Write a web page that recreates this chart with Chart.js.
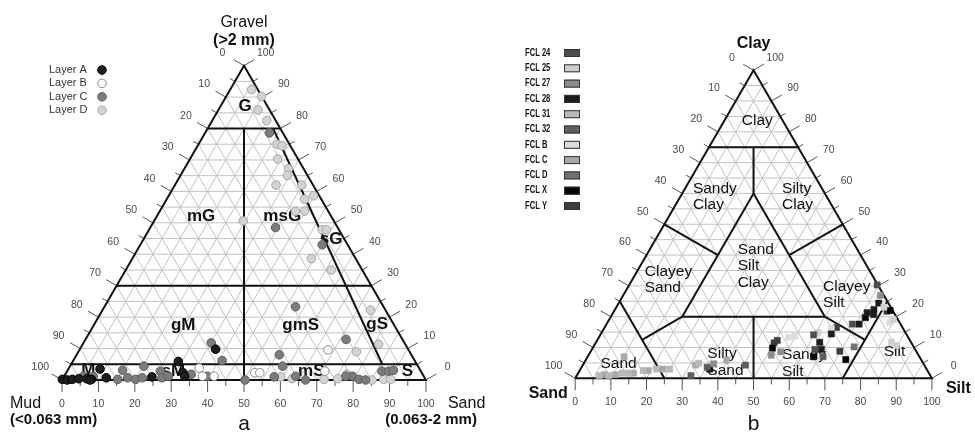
<!DOCTYPE html>
<html><head><meta charset="utf-8">
<script src="https://cdn.jsdelivr.net/npm/chart.js@4.4.0/dist/chart.umd.min.js"></script>
<style>
html,body{margin:0;padding:0;background:#fff;}
#wrap{position:relative;width:975px;height:437px;background:#fff;}
canvas{position:absolute;top:0;}
#cA{left:0;} #cB{left:487px;}
</style></head><body>
<div id="wrap"><canvas id="cA" width="487" height="437"></canvas><canvas id="cB" width="488" height="437"></canvas></div>
<script>
// ---------- DATA ----------
// Tick values shared by both ternary diagrams
const majorTicks = [0,10,20,30,40,50,60,70,80,90,100];
const minorTicks = [5,15,25,35,45,55,65,75,85,95];
const gridSteps = [5,10,15,20,25,30,35,40,45,50,55,60,65,70,75,80,85,90,95];

// Panel a (Folk gravel-sand-mud). Each point = [sand %, gravel %]; mud = 100 - sand - gravel
const layerNames = ['Layer A','Layer B','Layer C','Layer D'];
const layerA = [[37.3,9.8],[29,5.9],[32.1,2.3],[33.1,1.2],[24.2,1],[0,0.2],[1.4,0],[2.7,0.2],[4.4,0.4],[6.6,0.4],[8,0.2],[8.7,3.5],[11.8,0.7],[7.7,0]];
const layerB = [[68.3,9.6],[35.8,3.8],[38,1.2],[41.2,1.2],[51.8,2.3],[53.2,2.3],[70.8,2.8]];
const layerC = [[17.7,78.6],[34.4,48.5],[50,43],[52.5,23.3],[71.6,12.9],[55.7,8],[58.4,4.4],[35.1,11.8],[40.9,6.2],[50.3,0],[57.8,1],[66.9,0],[79.2,1.2],[81.5,0.2],[83.4,0],[86.5,2.8],[88.3,2.8],[89.5,3.1],[63.6,1.2],[5.3,1.2],[8,1.2],[15.2,0.2],[15.1,3.1],[17.7,0.7],[20.1,0.2],[21.7,0.7],[20.3,4.4],[25.6,2.8],[27.1,0.7],[28.6,1.2],[34.6,1.8],[39.4,1.2],[77.4,1.2]];
const layerD = [[5.9,92.4],[9.7,90.2],[10.9,85.9],[15,82.5],[21.7,75],[23.2,74.5],[24.1,70.3],[28.6,67.2],[29.4,65.1],[27.8,62],[34.9,62],[37.9,57.5],[39.8,58.6],[37.3,53.7],[39.8,53.7],[24.5,50.6],[47.6,47.8],[48.8,47.8],[49.2,38.6],[56.5,35],[73.7,22.2],[81.3,11.4],[76.4,9],[59.6,1],[63,0.4],[71.9,0.2],[75.6,0.4],[77.4,1.8],[85.2,0],[88.3,0.2],[90.2,0.2]];
// Folk class boundaries, [sand, gravel] end points
const folkBounds = [[[0,80],[20,80]],[[0,30],[70,30]],[[0,5],[95,5]],[[10,80],[50,0]],[[18,80],[85.5,5]]];
const folkLabels = [['G',6.7,87.2],['mG',12.2,52],['msG',34.5,52],['sG',51.5,44.9],['gM',24.6,17.4],['gmS',56.9,17.4],['gS',77.7,17.8],['M',5.7,3.1],['sM',29.2,2.8],['mS',67.1,2.8],['S',93.5,2.8]];

// Panel b (Shepard sand-silt-clay). Each point = [silt %, clay %]; sand = 100 - silt - clay
const fclNames = ['FCL 24','FCL 25','FCL 27','FCL 28','FCL 31','FCL 32','FCL B','FCL C','FCL D','FCL X','FCL Y'];
const fcl24 = [[69.5,30.3],[68.9,17.6],[59.8,14.1],[62.5,9.4]];
const fcl25 = [[75,23.1],[79.6,19.1],[60.6,14.9],[82.8,11.7],[84.7,10.7]];
const fcl27 = [[72.1,26.9],[51.2,7.5],[53.3,8.6],[36.5,4.7]];
const fcl28 = [[72.9,24.4],[72.6,22.3],[71.2,21.3],[73.3,20.7],[70.8,17.6],[64.6,14.4],[62.7,11.7],[64.3,9.4]];
const fcl31 = [[6.3,0.9],[9,0.9],[12.3,1.7],[14.1,1.7],[17.8,2.5],[21.3,3],[25,3],[32.2,4.9]];
const fcl32 = [[66,7],[35.2,3.6],[32,0.9],[45.6,4.3]];
const fclB = [[63.7,16.2],[79.2,18.1],[53.2,13.3],[54.8,13.7]];
const fclC = [[7.6,1.2],[10.7,1.2],[10.2,7],[15.5,1.7],[19.2,2.5],[23.1,3],[31.6,4.3],[39.5,5.9]];
const fclD = [[73.1,10.2]];
const fclX = [[77.3,22],[71.5,19.7],[63.3,7],[72.8,6.1],[50.4,9.8],[36.2,3]];
const fclY = [[76.5,21.8],[65,16.5],[69.8,8.8],[50,11.5],[50.5,12.3]];
// Shepard class boundaries, [silt, clay] end points
const shepBounds = [[[0,75],[25,75]],[[12.5,75],[20,60]],[[20,60],[20,20]],[[20,60],[60,20]],[[20,20],[60,20]],[[40,20],[50,0]],[[0,50],[20,40]],[[50,50],[40,40]],[[20,20],[12.5,12.5]],[[60,20],[75,12.5]],[[0,25],[25,0]],[[75,25],[75,0]]];
const shepLabels = [[['Clay'],4.95,83.5],[['Sandy','Clay'],2.2,61.6],[['Silty','Clay'],27.2,61.6],[['Sand','Silt','Clay'],24.6,41.9],[['Clayey','Sand'],2.2,34.6],[['Clayey','Silt'],54.6,29.8],[['Sand'],4.7,4.8],[['Silty','Sand'],33.1,7.9],[['Sandy','Silt'],54.2,7.6],[['Silt'],82.2,8.6]];

// ---------- HELPERS ----------
const SIN60 = Math.sqrt(3)/2;
function tern(p){ return {x: p[0] + p[1]/2, y: p[1]*SIN60}; }
const FONT = '"Liberation Sans", Arial, sans-serif';

function seg(a,b,color,width,order){
  return {data:[tern(a),tern(b)], showLine:true, pointRadius:0, borderColor:color, borderWidth:width, fill:false, order:order};
}
function gridSets(){
  const out=[];
  gridSteps.forEach(v=>{
    out.push(seg([0,v],[100-v,v],'#c2c2c2',1,2));
    out.push(seg([v,0],[v,100-v],'#c2c2c2',1,2));
    out.push(seg([100-v,0],[0,100-v],'#c2c2c2',1,2));
  });
  return out;
}
function outline(){
  const d = {data:[[0,0],[100,0],[0,100],[0,0]].map(tern), showLine:true, pointRadius:0, borderColor:'#111', borderWidth:2, fill:false, order:1, labelHook:true};
  return d;
}
function px(chart,p){ const q=tern(p); return [chart.scales.x.getPixelForValue(q.x), chart.scales.y.getPixelForValue(q.y)]; }

function drawTicks(chart){
  const ctx=chart.ctx; ctx.save();
  ctx.strokeStyle='#555'; ctx.lineWidth=1;
  const c=0.866, s=0.5;
  const all=majorTicks.concat(minorTicks);
  all.forEach(v=>{
    const L = majorTicks.includes(v)?12:6;
    let [x,y]=px(chart,[v,0]); ctx.beginPath(); ctx.moveTo(x,y); ctx.lineTo(x,y+L); ctx.stroke();
    [x,y]=px(chart,[0,100-v]); ctx.beginPath(); ctx.moveTo(x,y); ctx.lineTo(x-c*L,y-s*L); ctx.stroke();
    [x,y]=px(chart,[100-v,v]); ctx.beginPath(); ctx.moveTo(x,y); ctx.lineTo(x+c*L,y-s*L); ctx.stroke();
  });
  ctx.fillStyle='#4a4a4a'; ctx.font='10.5px '+FONT; ctx.textAlign='center'; ctx.textBaseline='middle';
  majorTicks.forEach(v=>{
    let [x,y]=px(chart,[v,0]); ctx.fillText(String(v),x,y+24);
    [x,y]=px(chart,[0,100-v]); ctx.fillText(String(v),x-c*25,y-s*25);
    [x,y]=px(chart,[100-v,v]); ctx.fillText(String(v),x+c*25,y-s*25);
  });
  ctx.restore();
}
function drawTitles(chart,titles){
  const ctx=chart.ctx; ctx.save(); ctx.fillStyle='#111'; ctx.textBaseline='middle';
  const V={top:px(chart,[0,100]),left:px(chart,[0,0]),right:px(chart,[100,0]),mid:px(chart,[50,0])};
  titles.forEach(t=>{
    ctx.font=t[4]+' '+FONT; ctx.textAlign=t[5];
    const v=V[t[1]]; ctx.fillText(t[0],v[0]+t[2],v[1]+t[3]);
  });
  ctx.restore();
}

// ---------- PANEL A ----------
const layerStyles = [
  {bg:'#1e1e1e',bd:'#000'},{bg:'#ffffff',bd:'#8a8a8a'},{bg:'#7c7c7c',bd:'#5e5e5e'},{bg:'#d3d3d3',bd:'#a6a6a6'}
];
const layerData=[layerA,layerB,layerC,layerD];
const dsA = [];
layerData.forEach((arr,i)=>{
  dsA.push({label:layerNames[i], data:arr.map(tern), showLine:false, pointStyle:'circle', pointRadius:4.3,
    backgroundColor:layerStyles[i].bg, borderColor:layerStyles[i].bd, borderWidth:1, order:0});
});
dsA.push(outline());
folkBounds.forEach(b=>dsA.push(seg(b[0],b[1],'#111',2,1)));
gridSets().forEach(g=>dsA.push(g));

const titlesA = [
  ['Gravel','top',0,-43,'16px','center'],
  ['(>2 mm)','top',0,-25,'bold 16px','center'],
  ['Mud','left',-52,24,'16px','left'],
  ['(<0.063 mm)','left',-52,40,'bold 15px','left'],
  ['Sand','right',22,24,'16px','left'],
  ['(0.063-2 mm)','right',51,40,'bold 15px','right'],
  ['a','mid',0,44,'21px','center']
];
const pluginA = {
  id:'ternA',
  beforeDatasetsDraw(chart){ drawTicks(chart); },
  afterDatasetDraw(chart,args){
    if(!chart.data.datasets[args.index].labelHook) return;
    const ctx=chart.ctx; ctx.save(); ctx.fillStyle='#111'; ctx.font='bold 17px '+FONT; ctx.textAlign='center'; ctx.textBaseline='middle';
    folkLabels.forEach(l=>{ const [x,y]=px(chart,[l[1],l[2]]); ctx.fillText(l[0],x,y); });
    ctx.restore();
  },
  afterDatasetsDraw(chart){
    drawTitles(chart,titlesA);
    const ctx=chart.ctx; ctx.save(); ctx.font='11px '+FONT; ctx.textBaseline='middle'; ctx.textAlign='left';
    layerNames.forEach((n,i)=>{
      const y=70+i*13.4;
      ctx.fillStyle='#333'; ctx.fillText(n,49,y);
      ctx.beginPath(); ctx.arc(102,y,4.3,0,Math.PI*2); ctx.fillStyle=layerStyles[i].bg; ctx.fill();
      ctx.lineWidth=1; ctx.strokeStyle=layerStyles[i].bd; ctx.stroke();
    });
    ctx.restore();
  }
};
const baseOpts = (xmin,xmax,ymin,ymax)=>({
  responsive:false, animation:false, events:[], layout:{padding:0},
  plugins:{legend:{display:false}, tooltip:{enabled:false}},
  scales:{x:{type:'linear',min:xmin,max:xmax,display:false}, y:{type:'linear',min:ymin,max:ymax,display:false}}
});
new Chart(document.getElementById('cA'), {type:'scatter', data:{datasets:dsA}, options:baseOpts(-15.59,115.32,-14.25,103.23), plugins:[pluginA]});

// ---------- PANEL B ----------
const fclColors = ['#4d4d4d','#cfcfcf','#8c8c8c','#1c1c1c','#b8b8b8','#5e5e5e','#dcdcdc','#a8a8a8','#737373','#050505','#3d3d3d'];
const fclData = [fcl24,fcl25,fcl27,fcl28,fcl31,fcl32,fclB,fclC,fclD,fclX,fclY];
const dsB = [];
fclData.forEach((arr,i)=>{
  dsB.push({label:fclNames[i], data:arr.map(tern), showLine:false, pointStyle:'rect', pointRadius:4.4,
    backgroundColor:fclColors[i], borderColor:fclColors[i], borderWidth:0.5, order:0});
});
dsB.push(outline());
shepBounds.forEach(b=>dsB.push(seg(b[0],b[1],'#111',2,1)));
gridSets().forEach(g=>dsB.push(g));

const titlesB = [
  ['Clay','top',0,-27,'bold 16px','center'],
  ['Sand','left',-27,15,'bold 16px','center'],
  ['Silt','right',14,10,'bold 16px','left'],
  ['b','mid',0,46,'21px','center']
];
const pluginB = {
  id:'ternB',
  beforeDatasetsDraw(chart){ drawTicks(chart); },
  afterDatasetDraw(chart,args){
    if(!chart.data.datasets[args.index].labelHook) return;
    const ctx=chart.ctx; ctx.save(); ctx.fillStyle='#111'; ctx.font='15.5px '+FONT; ctx.textAlign='left'; ctx.textBaseline='middle';
    shepLabels.forEach(l=>{ const [x,y]=px(chart,[l[1],l[2]]); l[0].forEach((t,k)=>ctx.fillText(t,x,y+k*16.5)); });
    ctx.restore();
  },
  afterDatasetsDraw(chart){
    drawTitles(chart,titlesB);
    const ctx=chart.ctx; ctx.save(); ctx.font='bold 10px '+FONT; ctx.textBaseline='middle'; ctx.textAlign='left';
    fclNames.forEach((n,i)=>{
      const y=53+i*15.3;
      ctx.save(); ctx.translate(38,y); ctx.scale(0.76,1); ctx.fillStyle='#111'; ctx.fillText(n,0,0); ctx.restore();
      ctx.fillStyle=fclColors[i]; ctx.fillRect(77,y-4,16,8);
      ctx.strokeStyle='#333'; ctx.lineWidth=1; ctx.strokeRect(77.5,y-3.5,15,7);
    });
    ctx.restore();
  }
};
new Chart(document.getElementById('cB'), {type:'scatter', data:{datasets:dsB}, options:baseOpts(-23.35,110.71,-15.11,104.95), plugins:[pluginB]});
</script>
</body></html>
